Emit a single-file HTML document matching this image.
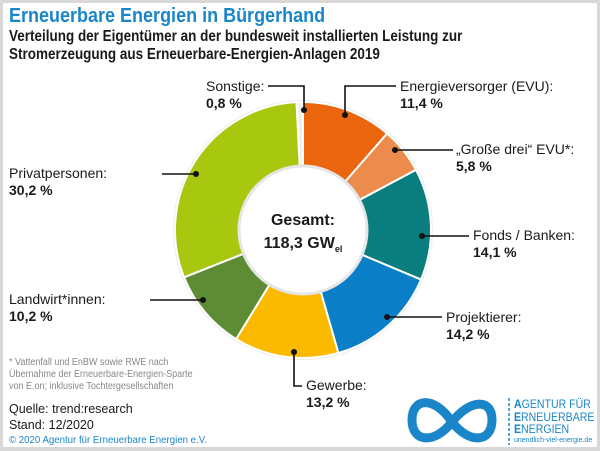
<!DOCTYPE html>
<html><head><meta charset="utf-8"><style>
html,body{margin:0;padding:0}
body{width:600px;height:451px;background:#d8d8d8;position:relative;overflow:hidden;font-family:"Liberation Sans Narrow","Liberation Sans",sans-serif}
#p{position:absolute;left:3px;top:3px;width:594px;height:444px;background:#fff}
.t{position:absolute;white-space:nowrap;color:#1a1a1a;transform-origin:0 0}
</style></head><body>
<div id="p"></div>
<svg width="600" height="451" style="position:absolute;left:0;top:0" id="s">
<g id="donut"></g>
<g stroke="#111" stroke-width="1.6" fill="none">
<polyline points="268,86 304,86 304,110"/>
<polyline points="396,86 345,86 345,115"/>
<polyline points="453,150 395,150"/>
<polyline points="469,236 422,236"/>
<polyline points="442,317 387,317"/>
<polyline points="294,352 294,386 302,386"/>
<polyline points="150,300 203,300"/>
<polyline points="162,174 196,174"/>
</g>
<g fill="#111">
<circle cx="304" cy="110" r="3"/><circle cx="345" cy="115" r="3"/><circle cx="395" cy="150" r="3"/>
<circle cx="422" cy="236" r="3"/><circle cx="387" cy="317" r="3"/><circle cx="294" cy="352" r="3"/>
<circle cx="203" cy="300" r="3"/><circle cx="196" cy="174" r="3"/>
</g>
<g fill="none" stroke="#1a85c8" stroke-width="9">
<path d="M452,422 C434,395 412,398 412,420 C412,442 434,445 452,422 C470,399 492,398 492,420 C492,442 470,445 452,422"/>
</g>
<line x1="509" y1="398" x2="509" y2="445" stroke="#1a85c8" stroke-width="1.5" stroke-dasharray="3,2"/>
</svg>
<div class="t" style="left:9px;top:5px;font-size:20px;font-weight:bold;color:#1a85c8;transform:scaleX(0.9)">Erneuerbare Energien in Bürgerhand</div>
<div class="t" style="left:9px;top:28px;font-size:15.5px;font-weight:bold;line-height:18px;transform:scaleX(0.87)">Verteilung der Eigentümer an der bundesweit installierten Leistung zur<br>Stromerzeugung aus Erneuerbare-Energien-Anlagen 2019</div>
<div class="t" style="left:206px;top:78px;font-size:14px;line-height:17px">Sonstige:<br><b>0,8 %</b></div>
<div class="t" style="left:400px;top:78px;font-size:14px;line-height:17px">Energieversorger (EVU):<br><b>11,4 %</b></div>
<div class="t" style="left:456px;top:141px;font-size:14px;line-height:17px">„Große drei“ EVU*:<br><b>5,8 %</b></div>
<div class="t" style="left:473px;top:227px;font-size:14px;line-height:17px">Fonds / Banken:<br><b>14,1 %</b></div>
<div class="t" style="left:446px;top:309px;font-size:14px;line-height:17px">Projektierer:<br><b>14,2 %</b></div>
<div class="t" style="left:306px;top:377px;font-size:14px;line-height:17px">Gewerbe:<br><b>13,2 %</b></div>
<div class="t" style="left:9px;top:291px;font-size:14px;line-height:17px">Landwirt*innen:<br><b>10,2 %</b></div>
<div class="t" style="left:9px;top:165px;font-size:14px;line-height:17px">Privatpersonen:<br><b>30,2 %</b></div>
<div class="t" style="left:253px;top:209px;width:100px;text-align:center;font-size:16px;font-weight:bold;line-height:23px">Gesamt:<br>118,3 GW<sub style="font-size:9px">el</sub></div>
<div class="t" style="left:9px;top:357px;font-size:10px;line-height:12px;color:#888;transform:scaleX(0.9)">* Vattenfall und EnBW sowie RWE nach<br>Übernahme der Erneuerbare-Energien-Sparte<br>von E.on; inklusive Tochtergesellschaften</div>
<div class="t" style="left:9px;top:401px;font-size:12.5px;line-height:16px">Quelle: trend:research<br>Stand: 12/2020</div>
<div class="t" style="left:9px;top:434px;font-size:10.5px;color:#1a85c8;transform:scaleX(0.92)">© 2020 Agentur für Erneuerbare Energien e.V.</div>
<div class="t" style="left:514px;top:398px;font-size:12px;line-height:12.5px;color:#1a85c8;transform:scaleX(0.88)"><b>A</b>GENTUR FÜR<br><b>E</b>RNEUERBARE<br><b>E</b>NERGIEN</div>
<div class="t" style="left:514px;top:437px;font-size:7px;color:#1a85c8">unendlich-viel-energie.de</div>
<script>
var cx=303,cy=230,R=128,r=64;
var d=[[11.4,"#ea650d"],[5.8,"#ec8c4c"],[14.1,"#0a7e7e"],[14.2,"#0a7fc8"],[13.2,"#fbb900"],[10.2,"#5e8c35"],[30.2,"#a8c70f"],[0.8,"#eeeeee"]];
var tot=d.reduce(function(a,b){return a+b[0]},0),a=0,h='<circle cx="'+cx+'" cy="'+cy+'" r="'+(R+2)+'" fill="#eee"/>';
function pt(rad,ang){var t=ang*Math.PI/180;return (cx+rad*Math.sin(t)).toFixed(2)+","+(cy-rad*Math.cos(t)).toFixed(2);}
d.forEach(function(s){var b=a+s[0]/tot*360,l=(b-a)>180?1:0;
h+='<path d="M'+pt(R,a)+' A'+R+','+R+' 0 '+l+' 1 '+pt(R,b)+' L'+pt(r,b)+' A'+r+','+r+' 0 '+l+' 0 '+pt(r,a)+'Z" fill="'+s[1]+'" stroke="#fff" stroke-width="2"/>';a=b;});
h+='<circle cx="'+cx+'" cy="'+cy+'" r="'+r+'" fill="#fff" stroke="#e6e6e6" stroke-width="3"/>';
document.getElementById("donut").innerHTML=h;
</script>
</body></html>
